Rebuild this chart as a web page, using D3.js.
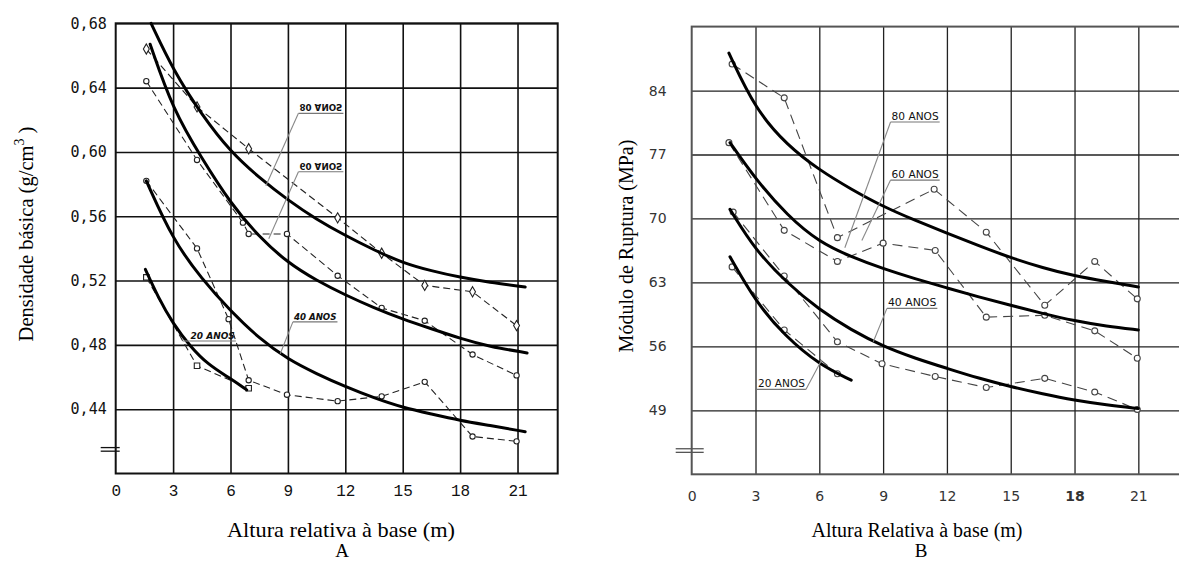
<!DOCTYPE html>
<html><head><meta charset="utf-8">
<script src="https://cdn.jsdelivr.net/npm/d3@7"></script>
<style>body{margin:0;background:#fff}svg{display:block}</style>
</head><body><svg id="c" width="1179" height="563"></svg>
<script>
// ---------- shared ticks ----------
const xTicks = [0, 3, 6, 9, 12, 15, 18, 21];
const densTicks = [0.44, 0.48, 0.52, 0.56, 0.60, 0.64, 0.68];
const densTickLabels = ["0,44", "0,48", "0,52", "0,56", "0,60", "0,64", "0,68"];
const morTicks = [49, 56, 63, 70, 77, 84];
const morTickLabels = ["49", "56", "63", "70", "77", "84"];

// ---------- Panel A: Densidade básica (observed, dashed) ----------
const densObs80X = [1.6, 4.25, 6.95, 11.6, 13.9, 16.15, 18.65, 20.95];
const densObs80Y = [0.664, 0.628, 0.602, 0.559, 0.537, 0.517, 0.513, 0.492];
const densObs60X = [1.6, 4.25, 6.65, 6.95, 8.95, 11.6, 13.9, 16.15, 18.65, 20.95];
const densObs60Y = [0.644, 0.595, 0.556, 0.549, 0.549, 0.523, 0.503, 0.495, 0.474, 0.461];
const densObs40X = [1.6, 4.25, 5.9, 6.95, 8.95, 11.6, 13.9, 16.15, 18.65, 20.95];
const densObs40Y = [0.582, 0.540, 0.496, 0.458, 0.449, 0.445, 0.448, 0.457, 0.423, 0.420];
const densObs20X = [1.6, 4.25, 6.95];
const densObs20Y = [0.522, 0.467, 0.453];

// ---------- Panel A: fitted curves (thick) ----------
const densFit80X = [1.85, 3, 4.5, 6, 7.5, 9, 10.5, 12, 13.5, 15, 16.5, 18, 19.5, 21.4];
const densFit80Y = [0.680, 0.651, 0.623, 0.600, 0.584, 0.570, 0.558, 0.548, 0.539, 0.531, 0.526, 0.522, 0.519, 0.516];
const densFit60X = [1.8, 3, 4.5, 6, 7.5, 9, 10.5, 12, 13.5, 15, 16.5, 18, 19.5, 21.5];
const densFit60Y = [0.667, 0.626, 0.596, 0.568, 0.547, 0.531, 0.520, 0.511, 0.503, 0.496, 0.490, 0.484, 0.479, 0.475];
const densFit40X = [1.6, 3, 4.5, 6, 7.5, 9, 10.5, 12, 13.5, 15, 16.5, 18, 19.5, 21.4];
const densFit40Y = [0.582, 0.545, 0.521, 0.501, 0.484, 0.471, 0.462, 0.454, 0.447, 0.441, 0.437, 0.433, 0.430, 0.426];
const densFit20X = [1.55, 2.2, 3, 3.9, 4.8, 6, 6.85];
const densFit20Y = [0.527, 0.510, 0.493, 0.479, 0.468, 0.459, 0.452];

// ---------- Panel B: Módulo de Ruptura (observed, dashed) ----------
const morObs80X = [1.9, 4.35, 6.85, 11.4, 13.85, 16.6, 18.95, 20.95];
const morObs80Y = [86.9, 83.2, 67.9, 73.2, 68.5, 60.5, 65.3, 61.2];
const morObs60X = [1.75, 4.35, 6.85, 9.0, 11.45, 13.85, 16.6, 18.95, 20.95];
const morObs60Y = [78.3, 68.7, 65.3, 67.3, 66.5, 59.2, 59.4, 57.7, 54.7];
const morObs40X = [1.95, 4.35, 6.85, 8.95, 11.45, 13.85, 16.6, 18.95, 20.95];
const morObs40Y = [70.7, 63.7, 56.5, 54.1, 52.7, 51.5, 52.5, 51.0, 49.1];
const morObs20X = [1.9, 4.35, 6.85];
const morObs20Y = [64.7, 57.8, 53.0];

// ---------- Panel B: fitted curves (thick) ----------
const morFit80X = [1.75, 3, 4.5, 6, 7.5, 9, 10.5, 12, 13.5, 15, 16.5, 18, 19.5, 21];
const morFit80Y = [88.1, 81.9, 78.0, 75.3, 73.2, 71.3, 69.8, 68.4, 67.0, 65.7, 64.6, 63.7, 63.1, 62.5];
const morFit60X = [1.8, 3, 4.5, 6, 7.5, 9, 10.5, 12, 13.5, 15, 16.5, 18, 19.5, 21];
const morFit60Y = [78.3, 74.3, 70.3, 67.4, 65.8, 64.5, 63.4, 62.4, 61.4, 60.5, 59.6, 58.8, 58.2, 57.8];
const morFit40X = [1.8, 3, 4.5, 6, 7.5, 9, 10.5, 12, 13.5, 15, 16.5, 18, 19.5, 21];
const morFit40Y = [71.0, 66.5, 62.9, 60.0, 57.8, 56.0, 54.7, 53.6, 52.5, 51.6, 50.8, 50.1, 49.6, 49.2];
const morFit20X = [1.8, 3, 4.4, 6, 7.5];
const morFit20Y = [65.8, 60.9, 57.1, 54.0, 52.3];

// ---------- annotation texts ----------
const ageLabels = ["80 ANOS", "60 ANOS", "40 ANOS", "20 ANOS"];
// ---------- axis titles ----------
const titlesA = { x: "Altura relativa à base (m)", y: "Densidade básica (g/cm", sup: "3", yEnd: " )", panel: "A" };
const titlesB = { x: "Altura Relativa à base (m)", y: "Módulo de Ruptura (MPa)", panel: "B" };

// =====================================================================
const svg = d3.select("#c");

function drawPanel(o) {
  const g = svg.append("g");
  const x = o.x, y = o.y;
  const [x0, x1] = x.range();
  const [y0, y1] = y.range(); // y0 bottom, y1 top

  // grid lines through axes
  g.append("g").attr("transform", `translate(0,${y0})`)
    .call(d3.axisBottom(x).tickValues(xTicks.filter(t => t > 0)).tickSize(-(y0 - y1)).tickFormat(""))
    .call(s => s.select(".domain").remove())
    .call(s => s.selectAll("line").attr("stroke", o.gridColor).attr("stroke-width", o.gridWidth));
  g.append("g").attr("transform", `translate(${x0},0)`)
    .call(d3.axisLeft(y).tickValues(o.yTicks).tickSize(-(x1 - x0)).tickFormat(""))
    .call(s => s.select(".domain").remove())
    .call(s => s.selectAll("line").attr("stroke", o.gridColor).attr("stroke-width", o.gridWidth));

  // border
  g.append("rect").attr("x", x0).attr("y", y1).attr("width", x1 - x0).attr("height", y0 - y1)
    .attr("fill", "none").attr("stroke", o.borderColor).attr("stroke-width", o.borderWidth);

  // axis break mark
  [-1.8, 1.8].forEach(d => {
    g.append("line").attr("x1", x0 - o.breakL).attr("x2", x0 + o.breakR)
      .attr("y1", y(o.breakAt) + d).attr("y2", y(o.breakAt) + d)
      .attr("stroke", o.borderColor).attr("stroke-width", 1.3);
  });

  // tick labels
  g.append("g").attr("transform", `translate(0,${y0})`)
    .call(d3.axisBottom(x).tickValues(xTicks).tickSize(0).tickPadding(o.xPad).tickFormat(d => String(d)))
    .call(s => s.select(".domain").remove())
    .call(s => s.selectAll("text").attr("font-family", o.xTickFont).attr("font-size", o.xTickSize)
      .attr("fill", o.tickColor).attr("font-weight", d => (o.boldTick === d ? "bold" : "normal")));
  g.append("g").attr("transform", `translate(${x0},0)`)
    .call(d3.axisLeft(y).tickValues(o.yTicks).tickSize(0).tickPadding(o.yPad).tickFormat((d, i) => o.yLabels[i]))
    .call(s => s.select(".domain").remove())
    .call(s => s.selectAll("text").attr("font-family", o.yTickFont).attr("font-size", o.yTickSize).attr("fill", o.tickColor));

  const line = d3.line().x(d => x(d[0])).y(d => y(d[1]));
  const curve = d3.line().x(d => x(d[0])).y(d => y(d[1])).curve(d3.curveBasis);

  // observed series
  o.obs.forEach(s => {
    const pts = d3.zip(s.x, s.y);
    g.append("path").attr("d", line(pts)).attr("fill", "none")
      .attr("stroke", o.dashColor).attr("stroke-width", 1.1).attr("stroke-dasharray", o.dash);
    g.selectAll(null).data(pts).enter().append("path")
      .attr("transform", d => `translate(${x(d[0])},${y(d[1])})`)
      .attr("d", d3.symbol().type(s.sym).size(s.size))
      .attr("fill", "#fff").attr("stroke", o.dashColor).attr("stroke-width", 1.1);
  });
  // fitted curves
  o.fits.forEach(s => {
    g.append("path").attr("d", curve(d3.zip(s.x, s.y))).attr("fill", "none")
      .attr("stroke", "#000").attr("stroke-width", 3).attr("stroke-linecap", "round");
  });

  // labels with underline + leader
  o.labels.forEach(l => {
    const ux0 = x(l.x0), ux1 = x(l.x1), uy = y(l.y);
    const lx0 = l.fromEnd ? ux1 : ux0;
    g.append("line").attr("x1", ux0).attr("x2", ux1).attr("y1", uy).attr("y2", uy)
      .attr("stroke", "#777").attr("stroke-width", 1.1);
    g.append("line").attr("x1", lx0).attr("y1", uy).attr("x2", x(l.lx)).attr("y2", y(l.ly))
      .attr("stroke", "#888").attr("stroke-width", 1.1);
    const t = g.append("text").text(l.text)
      .attr("font-family", "DejaVu Sans").attr("font-size", l.size)
      .attr("font-weight", l.weight || "normal").attr("font-style", l.style || "normal")
      .attr("fill", "#111").attr("textLength", ux1 - ux0 - 2).attr("lengthAdjust", "spacingAndGlyphs");
    if (l.flip) {
      t.attr("transform", `translate(${ux0 + 1},${uy - 9}) scale(1,-1)`);
    } else {
      t.attr("x", ux0 + 1).attr("y", uy - 2);
    }
  });
  return g;
}

// ---------- Panel A ----------
const xA = d3.scaleLinear().domain([0, 23.1]).range([115.7, 557.7]);
const yA = d3.scaleLinear().domain([0.40, 0.68]).range([473.5, 23.3]);
drawPanel({
  x: xA, y: yA, yTicks: densTicks, yLabels: densTickLabels,
  gridColor: "#111", gridWidth: 1.6, borderColor: "#111", borderWidth: 2,
  breakAt: 0.415, breakL: 15, breakR: 4,
  xPad: 11, xTickFont: "Liberation Mono", xTickSize: 16,
  yPad: 9, yTickFont: "DejaVu Sans Mono", yTickSize: 15, tickColor: "#111",
  dashColor: "#222", dash: "7,4",
  obs: [
    { x: densObs80X, y: densObs80Y, sym: d3.symbolDiamond, size: 30 },
    { x: densObs60X, y: densObs60Y, sym: d3.symbolCircle, size: 22 },
    { x: densObs40X, y: densObs40Y, sym: d3.symbolCircle, size: 22 },
    { x: densObs20X, y: densObs20Y, sym: d3.symbolSquare, size: 30 }
  ],
  fits: [
    { x: densFit80X, y: densFit80Y }, { x: densFit60X, y: densFit60Y },
    { x: densFit40X, y: densFit40Y }, { x: densFit20X, y: densFit20Y }
  ],
  labels: [
    { text: ageLabels[0], x0: 9.55, x1: 11.9, y: 0.624, lx: 7.85, ly: 0.579, size: 9.5, weight: "bold", flip: true },
    { text: ageLabels[1], x0: 9.55, x1: 11.9, y: 0.5877, lx: 8.0, ly: 0.546, size: 9.5, weight: "bold", flip: true },
    { text: ageLabels[2], x0: 9.26, x1: 11.59, y: 0.4943, lx: 8.6, ly: 0.4745, size: 9.5, weight: "bold", style: "italic" },
    { text: ageLabels[3], x0: 3.86, x1: 6.28, y: 0.4824, lx: 3.5, ly: 0.4824, size: 9.5, weight: "bold", style: "italic" }
  ]
});

// ---------- Panel B ----------
const xB = d3.scaleLinear().domain([0, 23.1]).range([691.7, 1183]);
const yB = d3.scaleLinear().domain([42, 91]).range([474.3, 26.6]);
drawPanel({
  x: xB, y: yB, yTicks: morTicks, yLabels: morTickLabels,
  gridColor: "#222", gridWidth: 1.3, borderColor: "#555", borderWidth: 2,
  breakAt: 44.6, breakL: 16, breakR: 12,
  xPad: 17, xTickFont: "DejaVu Sans", xTickSize: 14, boldTick: 18,
  yPad: 25, yTickFont: "DejaVu Sans", yTickSize: 14, tickColor: "#333",
  dashColor: "#444", dash: "10,6",
  obs: [
    { x: morObs80X, y: morObs80Y, sym: d3.symbolCircle, size: 28 },
    { x: morObs60X, y: morObs60Y, sym: d3.symbolCircle, size: 28 },
    { x: morObs40X, y: morObs40Y, sym: d3.symbolCircle, size: 28 },
    { x: morObs20X, y: morObs20Y, sym: d3.symbolCircle, size: 28 }
  ],
  fits: [
    { x: morFit80X, y: morFit80Y }, { x: morFit60X, y: morFit60Y },
    { x: morFit40X, y: morFit40Y }, { x: morFit20X, y: morFit20Y }
  ],
  labels: [
    { text: ageLabels[0], x0: 9.35, x1: 11.66, y: 80.56, lx: 7.2, ly: 66.8, size: 10.5 },
    { text: ageLabels[1], x0: 9.35, x1: 11.66, y: 74.2, lx: 8.0, ly: 67.6, size: 10.5 },
    { text: ageLabels[2], x0: 9.18, x1: 11.55, y: 60.16, lx: 8.54, ly: 56.5, size: 10.5 },
    { text: ageLabels[3], x0: 3.07, x1: 5.37, y: 51.29, lx: 6.11, ly: 54.5, size: 10.5, fromEnd: true }
  ]
});

// ---------- axis titles ----------
const serif = "Liberation Serif";
svg.append("text").attr("x", 341).attr("y", 537).attr("text-anchor", "middle")
  .attr("font-family", serif).attr("font-size", 21).attr("textLength", 228).attr("lengthAdjust", "spacingAndGlyphs")
  .text(titlesA.x);
svg.append("text").attr("x", 342).attr("y", 557).attr("text-anchor", "middle")
  .attr("font-family", serif).attr("font-size", 19).text(titlesA.panel);
const ytA = svg.append("text").attr("transform", "translate(33,234) rotate(-90)").attr("text-anchor", "middle")
  .attr("font-family", serif).attr("font-size", 20.5);
ytA.append("tspan").text(titlesA.y);
ytA.append("tspan").attr("dy", -9).attr("font-size", 14).text(titlesA.sup);
ytA.append("tspan").attr("dy", 9).text(titlesA.yEnd);

svg.append("text").attr("x", 917).attr("y", 537).attr("text-anchor", "middle")
  .attr("font-family", serif).attr("font-size", 20).text(titlesB.x);
svg.append("text").attr("x", 921).attr("y", 557).attr("text-anchor", "middle")
  .attr("font-family", serif).attr("font-size", 19).text(titlesB.panel);
svg.append("text").attr("transform", "translate(633,246) rotate(-90)").attr("text-anchor", "middle")
  .attr("font-family", serif).attr("font-size", 20).text(titlesB.y);
</script></body></html>
